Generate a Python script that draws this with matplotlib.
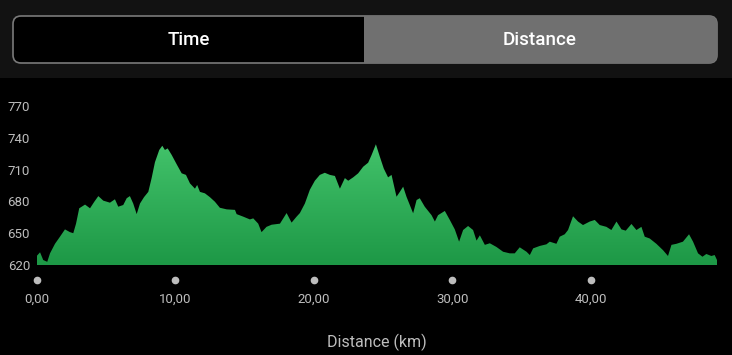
import numpy as np
import matplotlib
matplotlib.use("Agg")
import matplotlib.pyplot as plt
from matplotlib.colors import LinearSegmentedColormap
from matplotlib.patches import FancyBboxPatch, Rectangle

plt.rcParams['font.family'] = ['Roboto', 'DejaVu Sans']

dist_km = [0.00, 0.22, 0.45, 0.74, 0.94, 1.30, 1.66, 2.02, 2.38, 2.62, 2.82, 3.05, 3.47, 3.83,
           4.14, 4.43, 4.79, 5.27, 5.63, 5.87, 6.23, 6.48, 6.71, 6.95, 7.20, 7.44, 7.73, 8.04,
           8.28, 8.52, 8.83, 9.05, 9.24, 9.44, 9.73, 10.09, 10.45, 10.76, 11.05, 11.41, 11.57,
           11.77, 12.13, 12.49, 12.85, 13.21, 13.70, 14.30, 14.42, 14.90, 15.38, 15.62, 15.98,
           16.22, 16.58, 16.95, 17.55, 18.03, 18.39, 18.75, 18.99, 19.35, 19.71, 20.07, 20.43,
           20.79, 21.16, 21.52, 21.88, 22.24, 22.48, 22.84, 23.20, 23.56, 23.92, 24.17, 24.48,
           24.77, 25.05, 25.36, 25.61, 25.97, 26.21, 26.45, 26.69, 27.17, 27.42, 27.65, 28.01,
           28.50, 28.74, 28.97, 29.46, 29.82, 30.18, 30.49, 30.78, 31.14, 31.50, 31.75, 31.99,
           32.35, 32.71, 33.19, 33.67, 34.15, 34.51, 34.87, 35.36, 35.60, 35.84, 36.32, 36.80,
           37.04, 37.52, 37.76, 38.12, 38.36, 38.72, 39.08, 39.44, 39.93, 40.29, 40.65, 41.13,
           41.49, 41.86, 42.22, 42.53, 42.94, 43.30, 43.66, 43.90, 44.26, 44.74, 45.22, 45.58,
           45.83, 46.19, 46.66, 47.10, 47.39, 47.75, 48.07, 48.35, 48.71, 48.95, 49.12]
altitud = [628.8, 632.0, 624.7, 623.0, 631.0, 640.0, 646.7, 653.6, 651.0, 650.0, 659.0, 673.5,
           677.0, 673.5, 679.7, 685.0, 680.7, 678.8, 682.0, 675.0, 676.6, 683.0, 685.0, 678.0,
           668.0, 678.0, 684.0, 689.0, 702.0, 717.0, 728.5, 732.5, 728.5, 730.0, 723.8, 715.0,
           706.5, 705.0, 697.0, 692.0, 695.5, 689.0, 687.6, 684.0, 679.7, 674.0, 672.5, 672.0,
           668.0, 665.6, 663.0, 664.0, 659.0, 651.0, 656.0, 658.0, 659.0, 669.0, 660.0, 665.6,
           669.0, 678.0, 691.0, 699.5, 705.0, 707.0, 705.0, 704.0, 692.0, 702.0, 699.5, 702.7,
           706.5, 712.7, 716.5, 723.8, 733.9, 722.0, 711.0, 702.7, 705.0, 684.4, 689.0, 693.9,
           684.4, 668.8, 681.3, 683.0, 675.0, 667.0, 661.0, 667.0, 671.0, 662.5, 653.6, 642.0,
           653.0, 656.8, 653.0, 643.0, 648.0, 639.0, 640.5, 637.0, 632.5, 631.0, 631.0, 636.7,
           632.5, 629.4, 635.7, 638.0, 639.5, 642.0, 640.0, 646.7, 649.0, 653.0, 666.0, 661.0,
           657.7, 661.0, 662.5, 657.7, 656.0, 653.0, 661.0, 653.6, 652.4, 658.7, 653.0, 656.0,
           646.7, 645.0, 640.0, 634.0, 628.5, 639.0, 640.0, 642.0, 649.0, 642.0, 631.0, 627.8,
           630.4, 628.5, 629.4, 624.7]

x_ticks = [0, 10, 20, 30, 40]
x_labels = ["0,00", "10,00", "20,00", "30,00", "40,00"]
y_ticks = [620, 650, 680, 710, 740, 770]

W, H = 732, 355
fig = plt.figure(figsize=(W / 100, H / 100), dpi=100, facecolor='black')

# --- cabecera con el selector Time / Distance ---
hdr = fig.add_axes([0, 0, 1, 1])
hdr.set_xlim(0, W)
hdr.set_ylim(H, 0)
hdr.axis('off')
hdr.add_patch(Rectangle((0, 0), W, 78, facecolor='#121212', edgecolor='none'))
hdr.add_patch(FancyBboxPatch((13, 16), 704, 47, boxstyle="round,pad=0,rounding_size=8",
                             facecolor='black', edgecolor='#7a7a7a', linewidth=1.2))
hdr.add_patch(FancyBboxPatch((364, 16), 353, 47, boxstyle="round,pad=0,rounding_size=8",
                             facecolor='#707070', edgecolor='none'))
hdr.add_patch(Rectangle((364, 16), 20, 47, facecolor='#707070', edgecolor='none'))
hdr.text(189, 40, "Time", color='white', fontsize=13.5, fontweight='medium',
         ha='center', va='center')
hdr.text(540, 40, "Distance", color='white', fontsize=13.5, fontweight='medium',
         ha='center', va='center')

# --- perfil de altitud ---
ax = fig.add_axes([37 / W, 1 - 265 / H, 680 / W, 159 / H])
ax.set_facecolor('none')
ax.set_xlim(0, dist_km[-1])
ax.set_ylim(620, 770)

poly = ax.fill_between(dist_km, altitud, 620, facecolor='none', edgecolor='none')
cmap = LinearSegmentedColormap.from_list('verde', ['#1d9846', '#43c36b'])
grad = np.linspace(0, 1, 256).reshape(-1, 1)
img = ax.imshow(grad, cmap=cmap, aspect='auto', origin='lower',
                extent=(0, dist_km[-1], 620, 736), zorder=2)
img.set_clip_path(poly.get_paths()[0], transform=ax.transData)

for s in ax.spines.values():
    s.set_visible(False)

ax.set_yticks(y_ticks)
ax.set_yticklabels([str(v) for v in y_ticks])
ax.tick_params(axis='y', length=0, pad=5, labelsize=9.5, labelcolor='#bdbdbd')
ax.set_xticks(x_ticks)
ax.set_xticklabels(x_labels)
ax.tick_params(axis='x', length=0, pad=20, labelsize=9.5, labelcolor='#bdbdbd')

# puntos de las marcas del eje x
ax.plot(x_ticks, [-0.094] * len(x_ticks), 'o', color='#bdbdbd', markersize=4.5,
        transform=ax.get_xaxis_transform(), clip_on=False)

ax.set_xlabel("Distance (km)", color='#bdbdbd', fontsize=11.5, labelpad=20)

fig.savefig("out.png", dpi=100, facecolor='black')
